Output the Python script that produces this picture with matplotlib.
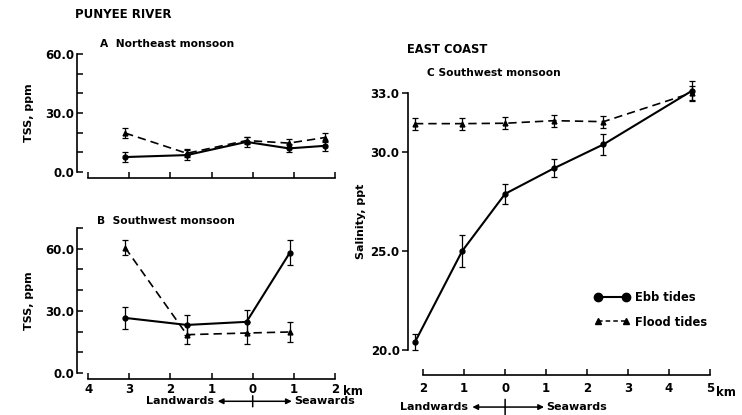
import numpy as np
import matplotlib
matplotlib.use("Agg")
import matplotlib.pyplot as plt
from matplotlib.lines import Line2D

W, H = 742, 415

# distance along the channel, km (negative = landwards, positive = seawards)
a_x = [-3.1, -1.6, -0.15, 0.88, 1.75]
a_ebb = [7.6, 8.6, 15.3, 12.0, 13.3]
a_ebb_err = [2.5, 2.5, 2.5, 2.0, 2.5]
a_fld = [19.8, 9.5, 16.0, 14.7, 17.5]
a_fld_err = [2.5, 2.0, 2.0, 2.0, 2.5]

b_x = [-3.1, -1.6, -0.15, 0.9]
b_ebb = [26.6, 23.2, 24.7, 58.0]
b_ebb_err = [5.5, 5.0, 5.5, 6.0]
b_fld = [60.5, 18.5, 19.3, 19.8]
b_fld_err = [3.5, 4.5, 5.5, 5.0]

c_x = [-2.2, -1.05, 0.0, 1.2, 2.4, 4.55]
c_ebb = [20.4, 25.0, 27.9, 29.2, 30.4, 33.1]
c_ebb_err = [0.4, 0.8, 0.5, 0.45, 0.55, 0.5]
c_fld = [31.45, 31.45, 31.47, 31.6, 31.55, 33.0]
c_fld_err = [0.3, 0.3, 0.3, 0.3, 0.3, 0.35]

ab_ticks = [-4, -3, -2, -1, 0, 1, 2]
ab_ticklabels = ["4", "3", "2", "1", "0", "1", "2"]
c_ticks = [-2, -1, 0, 1, 2, 3, 4, 5]
c_ticklabels = ["2", "1", "0", "1", "2", "3", "4", "5"]

plt.rcParams["font.family"] = ["DejaVu Sans"]
plt.rcParams["font.weight"] = "bold"
plt.rcParams["axes.labelweight"] = "bold"
FS = 7.5


def box(l, t, r, b):
    return [l / W, 1 - b / H, (r - l) / W, (b - t) / H]


def series(ax, x, ebb, ebb_err, fld, fld_err):
    ax.errorbar(x, fld, yerr=fld_err, fmt="^", ls="--", dashes=(5, 3), color="k",
                lw=1.2, ms=3.5, capsize=2.5, elinewidth=0.9, capthick=0.9, clip_on=False)
    ax.errorbar(x, ebb, yerr=ebb_err, fmt="o", ls="-", color="k",
                lw=1.5, ms=3.5, capsize=2.5, elinewidth=0.9, capthick=0.9, clip_on=False)


def style(ax, xlim, ylim, out_px, xb, ydir="in", xpad=3):
    ax.set_xlim(*xlim); ax.set_ylim(*ylim)
    ax.spines[["top", "right"]].set_visible(False)
    ax.spines["bottom"].set_position(("outward", out_px * 0.72))
    ax.spines["bottom"].set_bounds(*xb)
    for s in ("left", "bottom"):
        ax.spines[s].set_linewidth(1.2)
    ax.tick_params(axis="x", direction="in", length=4, width=1.1, labelsize=FS + 1, pad=xpad)
    ax.tick_params(axis="y", direction=ydir, length=4, width=1.1, labelsize=FS + 1, pad=2)


def landsea(ax, yfrac, left, right, bar):
    tr = ax.get_xaxis_transform()
    ap = dict(arrowstyle="-|>", color="k", lw=1.1, mutation_scale=8, shrinkA=0, shrinkB=0)
    ax.annotate("", xy=(left, yfrac), xytext=(0, yfrac), xycoords=tr, textcoords=tr, arrowprops=ap)
    ax.annotate("", xy=(right, yfrac), xytext=(0, yfrac), xycoords=tr, textcoords=tr, arrowprops=ap)
    ax.annotate("", xy=(0, yfrac - bar), xytext=(0, yfrac + bar), xycoords=tr, textcoords=tr,
                arrowprops=dict(arrowstyle="-", color="k", lw=1.1, shrinkA=0, shrinkB=0))
    ax.text(left - 0.1, yfrac, "Landwards", transform=tr, ha="right", va="center", fontsize=FS + 0.5)
    ax.text(right + 0.05, yfrac, "Seawards", transform=tr, ha="left", va="center", fontsize=FS + 0.5)


fig = plt.figure(figsize=(W / 100, H / 100), dpi=100)

# A - Northeast monsoon
axA = fig.add_axes(box(77, 54, 335, 172))
series(axA, a_x, a_ebb, a_ebb_err, a_fld, a_fld_err)
style(axA, (-4.27, 2.0), (0, 60), 6, (-4, 2))
axA.set_xticks(ab_ticks); axA.set_xticklabels([])
axA.set_yticks(range(0, 61, 10))
axA.set_yticklabels(["0.0", "", "", "30.0", "", "", "60.0"])
axA.set_ylabel("TSS, ppm", fontsize=FS + 0.5, labelpad=8)
axA.text(0.09, 1.06, "A  Northeast monsoon", transform=axA.transAxes, fontsize=FS + 0.2)
fig.text(75 / W, 1 - 15 / H, "PUNYEE RIVER", fontsize=FS + 1, va="center")

# B - Southwest monsoon
axB = fig.add_axes(box(77, 228, 335, 373))
series(axB, b_x, b_ebb, b_ebb_err, b_fld, b_fld_err)
style(axB, (-4.27, 2.0), (0, 70), 6, (-4, 2))
axB.set_xticks(ab_ticks); axB.set_xticklabels(ab_ticklabels)
axB.set_yticks(range(0, 71, 10))
axB.set_yticklabels(["0.0", "", "", "30.0", "", "", "60.0", ""])
axB.set_ylabel("TSS, ppm", fontsize=FS + 0.5, labelpad=8)
axB.text(0.078, 1.03, "B  Southwest monsoon", transform=axB.transAxes, fontsize=FS + 0.2)
axB.text(2.2, -0.125, "km", transform=axB.get_xaxis_transform(), fontsize=FS + 1, va="center")
landsea(axB, -0.195, -0.85, 0.95, 0.038)

# C - Southwest monsoon, east coast
axC = fig.add_axes(box(408, 93, 710, 350))
series(axC, c_x, c_ebb, c_ebb_err, c_fld, c_fld_err)
style(axC, (-2.37, 5.0), (20, 33), 25, (-2, 5), ydir="out", xpad=5)
axC.set_xticks(c_ticks); axC.set_xticklabels(c_ticklabels)
axC.set_yticks([20, 25, 30, 33])
axC.set_yticklabels(["20.0", "25.0", "30.0", "33.0"])
axC.set_ylabel("Salinity, ppt", fontsize=FS + 0.5, labelpad=3)
axC.text(0.063, 1.065, "C Southwest monsoon", transform=axC.transAxes, fontsize=FS + 0.2)
axC.text(-0.003, 1.155, "EAST COAST", transform=axC.transAxes, fontsize=FS + 0.8)
axC.text(5.15, -0.165, "km", transform=axC.get_xaxis_transform(), fontsize=FS + 1, va="center")
landsea(axC, -0.222, -0.8, 0.95, 0.03)

handles = [Line2D([], [], color="k", ls="-", lw=1.5, marker="o", ms=6),
           Line2D([], [], color="k", ls="--", dashes=(3, 2), lw=1.1, marker="^", ms=4)]
axC.legend(handles, ["Ebb tides", "Flood tides"], loc="upper left", numpoints=2,
           bbox_to_anchor=(0.6, 0.252), frameon=False, fontsize=FS + 0.8,
           handlelength=3.0, handletextpad=0.5, borderpad=0, labelspacing=1.0)

fig.savefig("out.png", dpi=100)
